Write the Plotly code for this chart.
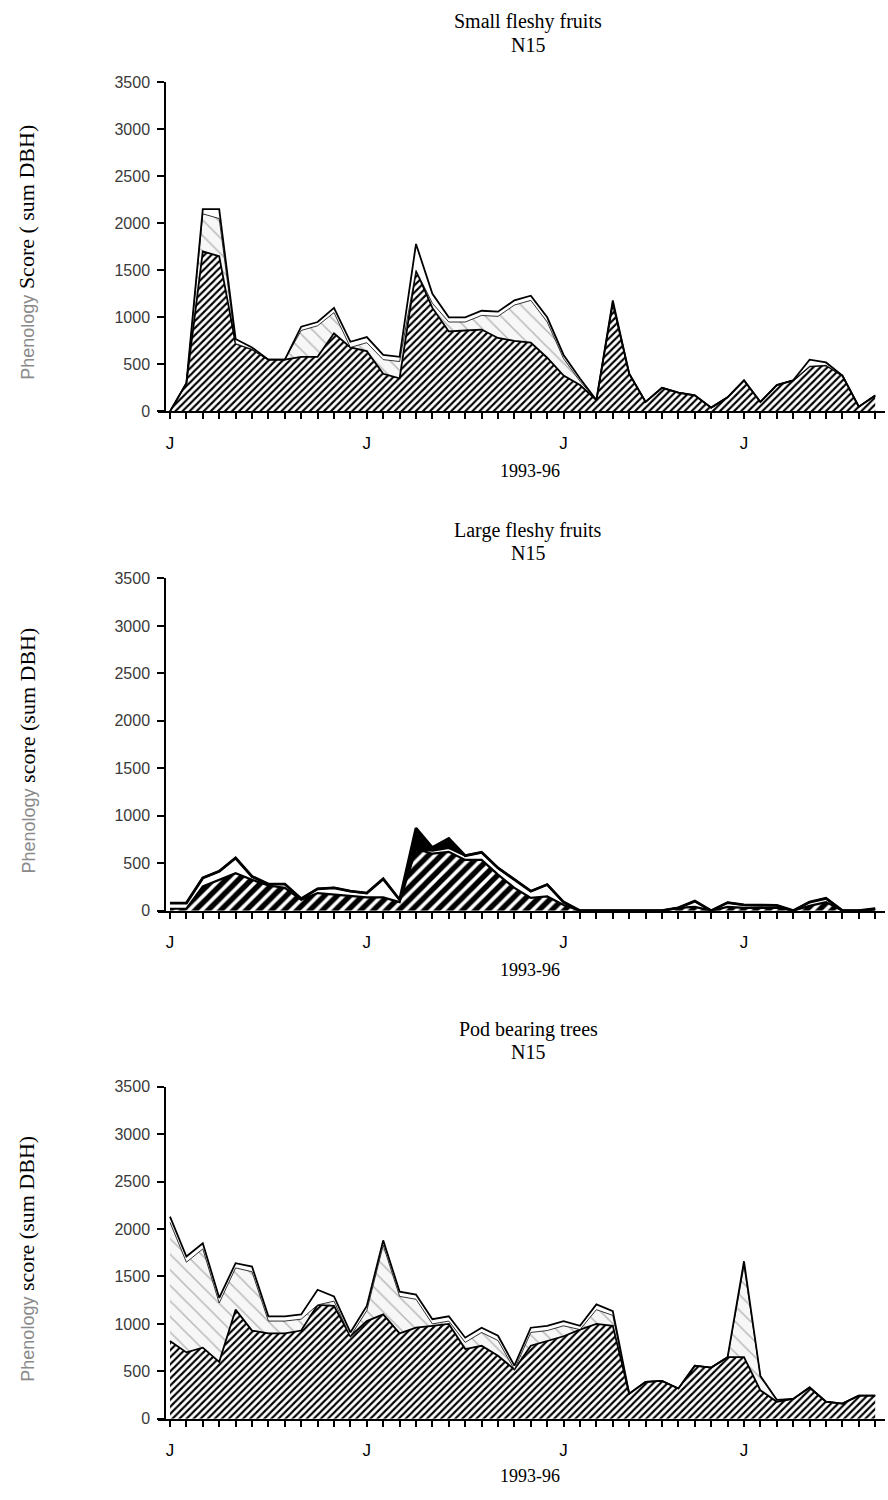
import plotly.graph_objects as go

# ---------------- data (month index, 1993-96) ----------------
months = list(range(44))
j_positions = [0, 12, 24, 35]
tick_text = ["J" if m in j_positions else "" for m in months]

# Small fleshy fruits
small_hatched = [0, 300, 1700, 1650, 720, 660, 550, 550, 580, 580, 830, 680, 640, 400, 350,
                 1500, 1100, 850, 860, 870, 780, 750, 730, 570, 380, 280, 120, 1150, 400, 100,
                 250, 200, 170, 40, 150, 330, 100, 280, 330, 480, 490, 380, 50, 170]
small_dashed = [0, 0, 400, 400, 0, 0, 0, 0, 280, 330, 220, 0, 90, 150, 180,
                0, 50, 100, 90, 150, 230, 380, 450, 380, 180, 40, 0, 0, 0, 0,
                0, 0, 0, 0, 0, 0, 0, 0, 0, 0, 0, 0, 0, 0]
small_white = [0, 0, 50, 100, 50, 20, 0, 0, 40, 40, 50, 60, 60, 50, 50,
               280, 100, 50, 50, 50, 50, 50, 50, 50, 40, 30, 0, 30, 0, 0,
               0, 0, 0, 0, 0, 0, 0, 0, 0, 70, 30, 0, 0, 0]

# Large fleshy fruits
large_hatched = [20, 20, 255, 325, 395, 325, 265, 240, 115, 185, 170, 150, 140, 140, 90,
                 650, 600, 620, 535, 535, 380, 240, 135, 150, 60, 0, 0, 0, 0, 0,
                 0, 30, 40, 0, 40, 30, 30, 30, 0, 50, 90, 0, 0, 10]
large_white = [60, 60, 90, 90, 160, 35, 15, 40, 10, 45, 70, 55, 45, 195, 25,
               0, 30, 40, 45, 80, 70, 85, 70, 125, 30, 0, 0, 0, 0, 0,
               0, 0, 60, 0, 45, 30, 25, 25, 0, 40, 40, 0, 0, 10]
large_black = [0, 0, 0, 0, 0, 0, 0, 0, 0, 0, 0, 0, 0, 0, 0,
               220, 35, 100, 0, 0, 0, 0, 0, 0, 0, 0, 0, 0, 0, 0,
               0, 0, 0, 0, 0, 0, 0, 0, 0, 0, 0, 0, 0, 0]

# Pod bearing trees
pod_hatched = [820, 700, 750, 600, 1150, 930, 900, 900, 930, 1200, 1190, 870, 1030, 1100, 900,
               960, 980, 1000, 735, 770, 665, 520, 770, 820, 870, 940, 1000, 980, 265, 390,
               400, 320, 560, 540, 650, 650, 300, 180, 210, 330, 180, 160, 245, 245]
pod_dashed = [1250, 950, 1040, 620, 440, 620, 130, 130, 120, 0, 50, 0, 110, 730, 390,
              300, 20, 30, 70, 140, 160, 0, 140, 110, 110, 0, 150, 110, 0, 0,
              0, 0, 0, 0, 0, 960, 150, 20, 0, 0, 0, 0, 0, 0]
pod_white = [60, 60, 60, 55, 50, 55, 50, 50, 50, 160, 50, 40, 50, 50, 50,
             50, 50, 50, 50, 50, 50, 40, 50, 50, 50, 40, 55, 45, 0, 0,
             0, 0, 0, 0, 0, 50, 0, 0, 0, 0, 0, 0, 0, 0]

panel_titles = ["Small fleshy fruits", "Large fleshy fruits", "Pod bearing trees"]
panel_subtitle = "N15"
y_titles = ["Score ( sum DBH)", "score (sum DBH)", "score (sum DBH)"]
x_title = "1993-96"
y_ticks = [0, 500, 1000, 1500, 2000, 2500, 3000, 3500]

# ---------------- layout geometry ----------------
W, H = 888, 1500
panels = [  # (y px of 0, y px of 3500, title y px, subtitle y px, x-title y px)
    (408, 75, 14, 37, 468),
    (913, 577, 528, 551, 973),
    (1427, 1091, 1033, 1056, 1485),
]
x_left_px, x_right_px = 158, 885
x0_px, dx_px = 170, 16.4
yaxis_px = 165

hatch = dict(shape="/", fgcolor="black", bgcolor="white", size=5, solidity=0.42, fgopacity=1)
hatch_bold = dict(shape="/", fgcolor="black", bgcolor="white", size=9, solidity=0.6, fgopacity=1)
dash_pat = dict(shape="\\", fgcolor="#7a7a7a", bgcolor="#f7f7f7", size=11, solidity=0.14)

fig = go.Figure()

def add_layer(idx, y, name, sg, **kw):
    xa = "x" if idx == 0 else f"x{idx+1}"
    ya = "y" if idx == 0 else f"y{idx+1}"
    fig.add_trace(go.Scatter(x=months, y=y, name=name, stackgroup=sg, xaxis=xa, yaxis=ya,
                             mode="lines", showlegend=False, hoverinfo="skip", **kw))

# Panel 1
add_layer(0, small_hatched, "hatched", "s1", line=dict(color="black", width=1.8),
          fillpattern=hatch, fillcolor="white")
add_layer(0, small_dashed, "dashed", "s1", line=dict(color="black", width=0.8),
          fillpattern=dash_pat, fillcolor="#f7f7f7")
add_layer(0, small_white, "white", "s1", line=dict(color="black", width=1.8), fillcolor="white")
# Panel 2
add_layer(1, large_hatched, "hatched", "s2", line=dict(color="black", width=2.2),
          fillpattern=hatch_bold, fillcolor="white")
add_layer(1, large_white, "white", "s2", line=dict(color="black", width=2), fillcolor="white")
add_layer(1, large_black, "black", "s2", line=dict(color="black", width=2.8), fillcolor="black")
# Panel 3
add_layer(2, pod_hatched, "hatched", "s3", line=dict(color="black", width=1.8),
          fillpattern=hatch, fillcolor="white")
add_layer(2, pod_dashed, "dashed", "s3", line=dict(color="black", width=0.8),
          fillpattern=dash_pat, fillcolor="#f7f7f7")
add_layer(2, pod_white, "white", "s3", line=dict(color="black", width=1.8), fillcolor="white")

xr = [(x_left_px - x0_px) / dx_px, (x_right_px - x0_px) / dx_px]
layout = dict(width=W, height=H, margin=dict(l=0, r=0, t=0, b=0),
              paper_bgcolor="white", plot_bgcolor="rgba(0,0,0,0)", showlegend=False)
serif = "Liberation Serif, Times New Roman, serif"
sans = "Liberation Sans, Arial, sans-serif"
annotations = []
for i, (y0, y35, ty, sty, xty) in enumerate(panels):
    sx = "" if i == 0 else str(i + 1)
    dom = [1 - y0 / H, 1 - y35 / H]
    layout[f"xaxis{sx}"] = dict(
        domain=[x_left_px / W, x_right_px / W], range=xr, anchor=f"y{sx}",
        tickmode="array", tickvals=months, ticktext=tick_text, ticks="outside",
        ticklen=6, tickwidth=1.5, tickcolor="black", showline=True, linecolor="black",
        linewidth=2, showgrid=False, zeroline=False, ticklabelstandoff=9,
        tickfont=dict(family=sans, size=17, color="black"))
    layout[f"yaxis{sx}"] = dict(
        domain=dom, range=[0, 3500], anchor="free", position=yaxis_px / W,
        tickmode="array", tickvals=y_ticks, ticks="outside", ticklen=7, tickwidth=1.5,
        tickcolor="black", showline=True, linecolor="black", linewidth=1.5,
        showgrid=False, zeroline=False, ticklabelstandoff=4,
        tickfont=dict(family=sans, size=16, color="#3a3a3a"))
    annotations.append(dict(text=panel_titles[i], x=528 / W, y=1 - ty / H, xref="paper",
                            yref="paper", showarrow=False, xanchor="center", yanchor="middle",
                            font=dict(family=serif, size=20, color="black")))
    annotations.append(dict(text=panel_subtitle, x=528 / W, y=1 - sty / H, xref="paper",
                            yref="paper", showarrow=False, xanchor="center", yanchor="middle",
                            font=dict(family=serif, size=20, color="black")))
    annotations.append(dict(text=x_title, x=530 / W, y=1 - xty / H, xref="paper", yref="paper",
                            showarrow=False, xanchor="center", yanchor="middle",
                            font=dict(family=serif, size=18, color="black")))
    yt = ("<span style='font-family:Liberation Sans, Arial, sans-serif;"
          "color:#8a8a8a;font-size:18px'>Phenology</span> " + y_titles[i])
    annotations.append(dict(text=yt, x=27 / W, y=1 - ((y0 + y35) / 2 + 6) / H, xref="paper",
                            yref="paper", showarrow=False, textangle=-90, xanchor="center",
                            yanchor="middle", font=dict(family=serif, size=22, color="black")))
layout["annotations"] = annotations
fig.update_layout(**layout)
fig.write_html("out.html")
